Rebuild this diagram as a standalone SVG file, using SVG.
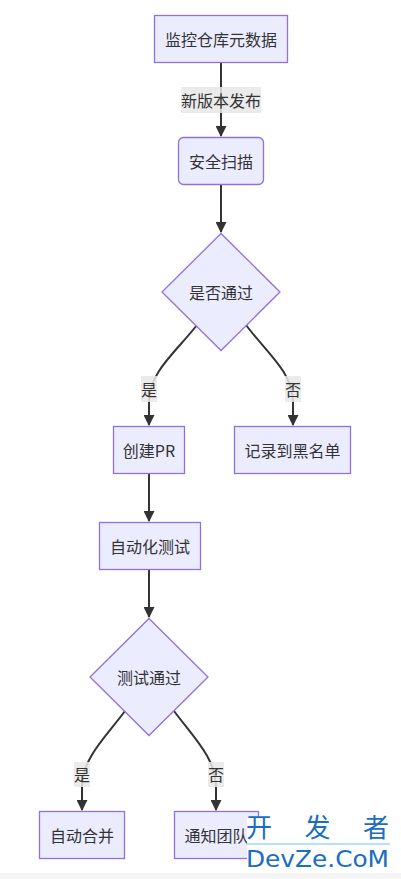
<svg xmlns="http://www.w3.org/2000/svg" width="401" height="879" viewBox="0 0 401 879">
<defs>
<marker id="arr" viewBox="0 0 10 10" refX="9" refY="5" markerUnits="userSpaceOnUse" markerWidth="11" markerHeight="11" orient="auto">
<path d="M0,0 L10,5 L0,10 z" fill="#333"/>
</marker>
<style>
.n{fill:#ECECFF;stroke:#9370DB;stroke-width:1.3;}
.t{font-family:"Noto Sans CJK SC","Liberation Sans",sans-serif;font-size:16px;fill:#333;text-anchor:middle;dominant-baseline:central;}
.e{fill:none;stroke:#333;stroke-width:2;}
.lb{fill:#e8e8e8;opacity:0.85;}
.wm{fill:#1a6dbf;}
</style>
</defs>
<rect width="401" height="879" fill="#fff"/>
<g id="edges">
<path class="e" d="M221,62 L221,136" marker-end="url(#arr)"/>
<path class="e" d="M221,184 L221,232" marker-end="url(#arr)"/>
<path class="e" d="M197,325 C176,352 149,372 149,402 L149,425" marker-end="url(#arr)"/>
<path class="e" d="M246,325 C266,352 293,372 293,402 L293,425" marker-end="url(#arr)"/>
<path class="e" d="M149,473 L149,521" marker-end="url(#arr)"/>
<path class="e" d="M149,569 L149,617" marker-end="url(#arr)"/>
<path class="e" d="M125,711 C105,738 82,758 82,788 L82,810" marker-end="url(#arr)"/>
<path class="e" d="M174,711 C194,738 216,758 216,788 L216,810" marker-end="url(#arr)"/>
<g id="edge-labels">
<rect class="lb" x="181" y="87" width="80" height="26"/>
<text class="t" x="221" y="100">新版本发布</text>
<rect class="lb" x="141" y="376" width="16" height="26"/>
<text class="t" x="149" y="389">是</text>
<rect class="lb" x="285" y="376" width="16" height="26"/>
<text class="t" x="293" y="389">否</text>
<rect class="lb" x="74" y="762" width="16" height="25"/>
<text class="t" x="82" y="774">是</text>
<rect class="lb" x="208" y="762" width="16" height="25"/>
<text class="t" x="216" y="774">否</text>
</g>
</g>
<g id="n1"><rect class="n" x="154.5" y="15.5" width="133" height="47"/><text class="t" x="221" y="39">监控仓库元数据</text></g>
<g id="n2"><rect class="n" x="178.5" y="137.5" width="85" height="47" rx="5"/><text class="t" x="221" y="161">安全扫描</text></g>
<g id="n3"><polygon class="n" points="221,233.5 280,292 221,350.5 162,292"/><text class="t" x="221" y="292">是否通过</text></g>
<g id="n4"><rect class="n" x="113.5" y="426.5" width="71" height="47"/><text class="t" x="149" y="450">创建PR</text></g>
<g id="n5"><rect class="n" x="234.5" y="426.5" width="116" height="47"/><text class="t" x="292.5" y="450">记录到黑名单</text></g>
<g id="n6"><rect class="n" x="99.5" y="522.5" width="101" height="47"/><text class="t" x="150" y="546">自动化测试</text></g>
<g id="n7"><polygon class="n" points="149,618.5 208,677 149,735.5 90,677"/><text class="t" x="149" y="677">测试通过</text></g>
<g id="n8"><rect class="n" x="39.5" y="811.5" width="85" height="47"/><text class="t" x="82" y="835">自动合并</text></g>
<g id="n9"><rect class="n" x="174.5" y="811.5" width="84" height="47"/><text class="t" x="216.5" y="835">通知团队</text></g>
<g id="watermark">
<rect x="247" y="818" width="145" height="52" fill="#fff" opacity="0.95"/>
<text class="wm" x="246" y="837" font-family="'Noto Sans CJK SC', sans-serif" font-size="26" textLength="143" lengthAdjust="spacing">开 发 者</text>
<line x1="246" y1="844" x2="390" y2="844" stroke="#6ec3ee" stroke-width="1"/>
<text class="wm" x="246" y="867" font-family="'DejaVu Sans', sans-serif" font-size="23" textLength="143" lengthAdjust="spacingAndGlyphs">DevZe.CoM</text>
</g>
<rect x="0" y="873" width="401" height="6" fill="#f4f4f4"/>
</svg>
